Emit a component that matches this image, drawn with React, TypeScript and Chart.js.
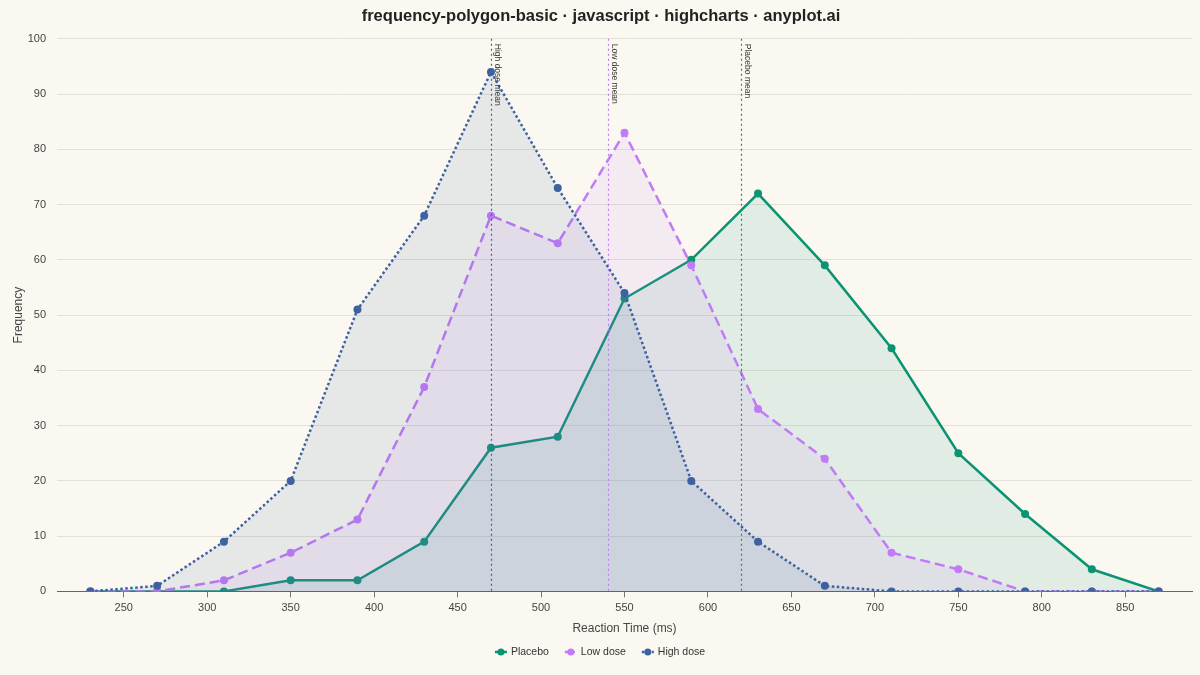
import React, { useEffect, useRef } from "react";
import { Chart, registerables } from "chart.js";

Chart.register(...registerables);

const binCenters = [230, 270, 310, 350, 390, 430, 470, 510, 550, 590, 630, 670, 710, 750, 790, 830, 870];
const placebo = [0, 0, 0, 2, 2, 9, 26, 28, 53, 60, 72, 59, 44, 25, 14, 4, 0];
const lowDose = [0, 0, 2, 7, 13, 37, 68, 63, 83, 59, 33, 24, 7, 4, 0, 0, 0];
const highDose = [0, 1, 9, 20, 51, 68, 94, 73, 54, 20, 9, 1, 0, 0, 0, 0, 0];
const seriesNames = ["Placebo", "Low dose", "High dose"];
const seriesColors = ["#0A9472", "#C27AF7", "#3E61A0"];
const meanValues = [620, 540, 470];
const meanLabels = ["Placebo mean", "Low dose mean", "High dose mean"];
const xTickValues = [250, 300, 350, 400, 450, 500, 550, 600, 650, 700, 750, 800, 850];

const BG = "#FAF8F1";
const FONT = "'Liberation Sans', Arial, sans-serif";

function hexA(hex: string, a: number) {
  const n = parseInt(hex.slice(1), 16);
  return `rgba(${(n >> 16) & 255},${(n >> 8) & 255},${n & 255},${a})`;
}

const dashes = [[], [10, 5], [2.5, 2.5]];

const meanLinesPlugin = {
  id: "meanLines",
  afterDatasetsDraw(chart: any) {
    const { ctx, chartArea, scales } = chart;
    ctx.save();
    meanValues.forEach((v, i) => {
      const x = Math.round(scales.x.getPixelForValue(v)) + 0.5;
      ctx.strokeStyle = seriesColors[i];
      ctx.lineWidth = 1.2;
      ctx.setLineDash([2, 3]);
      ctx.beginPath();
      ctx.moveTo(x, chartArea.top);
      ctx.lineTo(x, chartArea.bottom);
      ctx.stroke();
    });
    ctx.setLineDash([]);
    meanValues.forEach((v, i) => {
      const x = scales.x.getPixelForValue(v);
      ctx.save();
      ctx.translate(x + 2, chartArea.top + 5);
      ctx.rotate(Math.PI / 2);
      ctx.font = `8.5px ${FONT}`;
      ctx.fillStyle = "#3a3a3a";
      ctx.textAlign = "left";
      ctx.textBaseline = "bottom";
      ctx.fillText(meanLabels[i], 0, 0);
      ctx.restore();
    });
    ctx.restore();
  },
};

const legendPlugin = {
  id: "customLegend",
  afterDraw(chart: any) {
    const { ctx, width } = chart;
    ctx.save();
    ctx.font = `10.5px ${FONT}`;
    const symW = 12;
    const gap = 4;
    const itemGap = 16;
    const widths = seriesNames.map((n) => symW + gap + ctx.measureText(n).width);
    const total = widths.reduce((a, b) => a + b, 0) + itemGap * (seriesNames.length - 1);
    let x = width / 2 - total / 2;
    const y = 652;
    seriesNames.forEach((n, i) => {
      ctx.strokeStyle = seriesColors[i];
      ctx.lineWidth = 2.5;
      ctx.setLineDash(dashes[i]);
      ctx.beginPath();
      ctx.moveTo(x, y);
      ctx.lineTo(x + symW, y);
      ctx.stroke();
      ctx.setLineDash([]);
      ctx.fillStyle = seriesColors[i];
      ctx.beginPath();
      ctx.arc(x + symW / 2, y, 3.5, 0, Math.PI * 2);
      ctx.fill();
      ctx.fillStyle = "#333";
      ctx.textAlign = "left";
      ctx.textBaseline = "middle";
      ctx.fillText(n, x + symW + gap, y + 0.5);
      x += widths[i] + itemGap;
    });
    ctx.restore();
  },
};

const bgPlugin = {
  id: "bg",
  beforeDraw(chart: any) {
    const { ctx, width, height } = chart;
    ctx.save();
    ctx.fillStyle = BG;
    ctx.fillRect(0, 0, width, height);
    ctx.restore();
  },
};

export default function App() {
  const ref = useRef<HTMLCanvasElement>(null);
  useEffect(() => {
    document.body.style.margin = "0";
    document.body.style.background = BG;
    const all = [placebo, lowDose, highDose];
    const chart = new Chart(ref.current as HTMLCanvasElement, {
      type: "line",
      data: {
        datasets: all.map((vals, i) => ({
          label: seriesNames[i],
          data: binCenters.map((x, j) => ({ x, y: vals[j] })),
          borderColor: seriesColors[i],
          backgroundColor: hexA(seriesColors[i], 0.1),
          pointBackgroundColor: seriesColors[i],
          pointBorderColor: seriesColors[i],
          pointRadius: 4,
          pointBorderWidth: 0,
          borderWidth: 2.5,
          borderDash: dashes[i],
          fill: "origin",
          tension: 0,
          order: 3 - i,
        })),
      },
      options: {
        animation: false,
        responsive: true,
        maintainAspectRatio: false,
        layout: { padding: { left: 10, right: 8, top: 0, bottom: 39 } },
        plugins: {
          legend: { display: false },
          tooltip: { enabled: false },
          title: {
            display: true,
            text: "frequency-polygon-basic · javascript · highcharts · anyplot.ai",
            color: "#222",
            font: { family: FONT, size: 16.5, weight: "bold" },
            padding: { top: 7, bottom: 12 },
          },
        },
        scales: {
          x: {
            type: "linear",
            min: 210,
            max: 890,
            afterBuildTicks: (axis: any) => {
              axis.ticks = xTickValues.map((v) => ({ value: v }));
            },
            grid: { drawOnChartArea: false, drawTicks: true, tickLength: 6, color: "#777" },
            border: { display: true, color: "#666", width: 1 },
            ticks: { color: "#444", font: { family: FONT, size: 11 }, padding: 4, maxRotation: 0 },
            title: {
              display: true,
              text: "Reaction Time (ms)",
              color: "#444",
              font: { family: FONT, size: 12 },
              padding: { top: 3, bottom: 0 },
            },
          },
          y: {
            min: 0,
            max: 100,
            afterFit: (scale: any) => {
              scale.width = 47;
            },
            ticks: { stepSize: 10, color: "#444", font: { family: FONT, size: 11 }, padding: 11 },
            grid: { color: "#E3E0D8", drawTicks: false, lineWidth: 1 },
            border: { display: false },
            title: {
              display: true,
              text: "Frequency",
              color: "#444",
              font: { family: FONT, size: 12 },
              padding: { top: 1, bottom: 2 },
            },
          },
        },
      },
      plugins: [bgPlugin, meanLinesPlugin, legendPlugin],
    } as any);
    return () => chart.destroy();
  }, []);
  return (
    <div style={{ position: "fixed", left: 0, top: 0, width: 1200, height: 675, background: BG }}>
      <canvas ref={ref} />
    </div>
  );
}
